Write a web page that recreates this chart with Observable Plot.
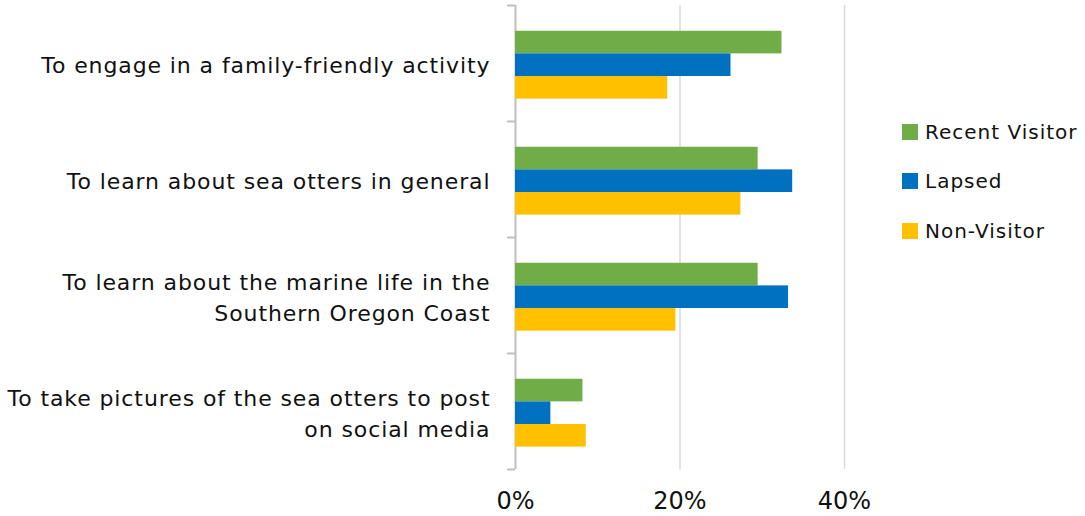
<!DOCTYPE html>
<html>
<head>
<meta charset="utf-8">
<script src="https://cdn.jsdelivr.net/npm/d3@7"></script>
<script src="https://cdn.jsdelivr.net/npm/@observablehq/plot@0.6"></script>
<style>
  html, body { margin: 0; padding: 0; background: #fff; }
  #wrap { position: relative; width: 1085px; height: 516px; font-family: "DejaVu Sans", sans-serif; }
  #wrap svg { display: block; }
  #wrap svg g[aria-label="text"] text { letter-spacing: 0.9px; }
  #legend { position: absolute; left: 902px; top: 119px; }
  .li { display: flex; align-items: center; height: 25px; margin-bottom: 24.5px; font-size: 20px; letter-spacing: 1px; color: #111; }
  .sw { width: 16px; height: 16px; margin-right: 7px; }
</style>
</head>
<body>
<div id="wrap"><div id="legend"></div></div>
<script>
const categories = [
  "To engage in a family-friendly activity",
  "To learn about sea otters in general",
  "To learn about the marine life in the\nSouthern Oregon Coast",
  "To take pictures of the sea otters to post\non social media"
];
const series = ["Recent Visitor", "Lapsed", "Non-Visitor"];
const recentVisitor = [32.4, 29.5, 29.5, 8.2];
const lapsed = [26.2, 33.7, 33.2, 4.3];
const nonVisitor = [18.5, 27.4, 19.5, 8.6];
const colors = ["#70AD47", "#0070C0", "#FFC000"];
const xTicks = [0, 20, 40];

const seriesValues = [recentVisitor, lapsed, nonVisitor];
const barStart = 0.222, barSize = 0.195;
const rows = [];
categories.forEach((c, i) => {
  series.forEach((s, j) => {
    const y1 = i + barStart + j * barSize;
    rows.push({category: c, series: s, value: seriesValues[j][i], y1, y2: y1 + barSize});
  });
});

const chart = Plot.plot({
  width: 1085,
  height: 516,
  marginLeft: 515,
  marginRight: 241,
  marginTop: 5,
  marginBottom: 47,
  style: {fontFamily: "DejaVu Sans, sans-serif", color: "#111", background: "#fff"},
  x: {domain: [0, 40]},
  y: {domain: [0, categories.length], reverse: true},
  color: {domain: series, range: colors},
  marks: [
    Plot.gridX({ticks: [20, 40], stroke: "#d9d9d9", strokeOpacity: 1, strokeWidth: 1.5}),
    Plot.axisY({ticks: d3.range(categories.length + 1), tickSize: 8, tickFormat: () => "", stroke: "#bfbfbf", strokeWidth: 2, label: null}),
    Plot.ruleX([0], {stroke: "#bfbfbf", strokeWidth: 2}),
    Plot.rect(rows, {x1: 0, x2: "value", y1: "y1", y2: "y2", fill: "series"}),
    Plot.text(categories, {x: 0, y: (d, i) => i + 0.5, text: d => d, textAnchor: "end", dx: -25, fontSize: 22, lineHeight: 1.4, fill: "#111"}),
    Plot.axisX({ticks: xTicks, tickFormat: d => d + "%", tickSize: 0, tickPadding: 22, fontSize: 24, label: null})
  ]
});
document.getElementById("wrap").prepend(chart);

const legend = document.getElementById("legend");
series.forEach((s, j) => {
  const li = document.createElement("div");
  li.className = "li";
  li.innerHTML = `<span class="sw" style="background:${colors[j]}"></span><span>${s}</span>`;
  legend.appendChild(li);
});
</script>
</body>
</html>
